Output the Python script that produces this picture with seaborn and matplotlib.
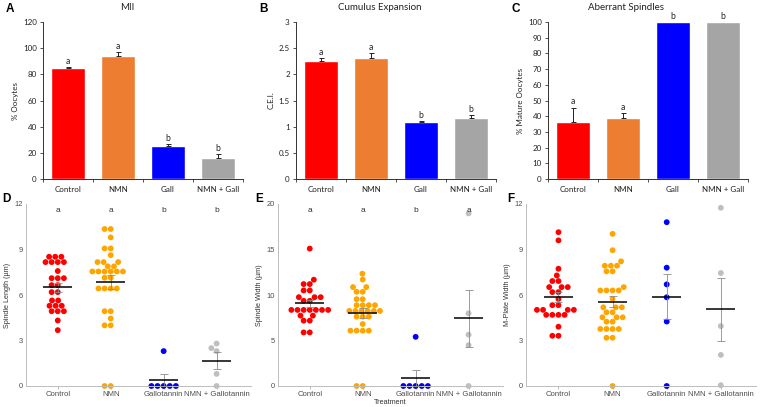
import numpy as np
import pandas as pd
import matplotlib
matplotlib.use("Agg")
import matplotlib.pyplot as plt
import seaborn as sns

# top row: bar charts (mean + upper error)
groups_top = ["Control", "NMN", "Gall", "NMN + Gall"]
bar_colors = ["#FF0000", "#ED7D31", "#0000FF", "#A5A5A5"]

mii_mean = [84.5, 94.0, 25.5, 16.0]
mii_err = [1.0, 3.0, 1.2, 3.0]
mii_letters = ["a", "a", "b", "b"]

cei_mean = [2.25, 2.32, 1.08, 1.16]
cei_err = [0.06, 0.08, 0.03, 0.06]
cei_letters = ["a", "a", "b", "b"]

aberrant_mean = [36.0, 39.0, 100.0, 100.0]
aberrant_err = [9.5, 3.0, 0.0, 0.0]
aberrant_letters = ["a", "a", "b", "b"]

# bottom row: individual oocytes
groups_bottom = ["Control", "NMN", "Gallotannin", "NMN + Gallotannin"]
dot_colors = ["#FF0000", "#FFA500", "#0000FF", "#BFBFBF"]

length_control = [8.52, 8.52, 8.52, 8.17, 8.17, 8.17, 8.17, 7.58, 7.11, 7.11, 7.11,
                  6.65, 6.65, 6.19, 6.19, 5.64, 5.64, 5.29, 5.29, 5.29, 4.93, 4.93,
                  4.93, 4.32, 3.68]
length_nmn = [10.35, 10.35, 9.8, 9.07, 9.07, 8.63, 8.17, 8.17, 8.17, 7.89, 7.89,
              7.55, 7.55, 7.55, 7.55, 7.55, 7.55, 7.14, 7.14, 6.43, 6.43, 6.43, 6.43,
              4.93, 4.93, 4.45, 4.0, 4.0, 0.0, 0.0]
length_gall = [2.3, 0.0, 0.0, 0.0, 0.0, 0.0]
length_nmn_gall = [2.8, 2.5, 2.3, 0.8, 0.0]
length_letters = ["a", "a", "b", "b"]

width_control = [15.1, 11.68, 11.2, 11.2, 10.5, 10.5, 9.76, 9.76, 9.76, 9.36, 9.36,
                 8.36, 8.36, 8.36, 8.36, 8.36, 8.36, 8.36, 7.73, 7.73, 7.18, 7.18,
                 5.89, 5.89]
width_nmn = [12.34, 11.7, 10.87, 10.87, 10.35, 10.35, 9.54, 9.54, 8.88, 8.88, 8.88,
             8.88, 8.25, 8.25, 8.25, 8.25, 8.25, 8.25, 7.62, 7.62, 7.62, 6.81, 6.08,
             6.08, 6.08, 6.08, 0.0, 0.0]
width_gall = [5.4, 0.0, 0.0, 0.0, 0.0, 0.0]
width_nmn_gall = [18.97, 7.99, 5.64, 4.49, 0.0]
width_letters = ["a", "a", "b", "a"]

plate_control = [10.14, 9.6, 7.73, 7.29, 6.92, 6.92, 6.52, 6.52, 6.52, 6.19, 6.19,
                 5.74, 5.33, 5.33, 5.02, 5.02, 5.02, 5.02, 4.69, 4.69, 4.69, 4.69,
                 3.91, 3.31, 3.31]
plate_nmn = [10.03, 8.95, 8.22, 7.93, 7.93, 7.93, 7.56, 7.56, 6.52, 6.3, 6.3, 6.3,
             6.3, 5.75, 5.19, 5.19, 5.19, 4.86, 4.86, 4.53, 4.53, 4.53, 4.24, 4.24,
             3.76, 3.76, 3.76, 3.76, 3.18, 3.18, 0.0]
plate_gall = [10.8, 7.8, 6.7, 5.85, 4.25, 0.0]
plate_nmn_gall = [11.75, 7.45, 3.95, 2.05, 0.05]

W, H = 760, 407
fig = plt.figure(figsize=(7.6, 4.07), dpi=100)
sns.set_style("ticks")
plt.rcParams["font.family"] = ["Liberation Sans", "DejaVu Sans"]


def box(left, top, right, bottom):
    # pixel box -> figure fraction
    return [left / W, 1 - bottom / H, (right - left) / W, (bottom - top) / H]


def bar_panel(rect, means, errs, letters, ymax, step, ylabel, title, title_x, letter, letter_x):
    ax = fig.add_axes(box(*rect))
    sns.barplot(x=groups_top, y=means, hue=groups_top, palette=bar_colors,
                width=0.68, saturation=1, legend=False, ax=ax)
    for i, (m, e, t) in enumerate(zip(means, errs, letters)):
        if e > 0:
            ax.errorbar(i, m, yerr=[[0], [e]], fmt="none", ecolor="#222222",
                        elinewidth=0.7, capsize=1.8, capthick=0.7)
        ax.annotate(t, (i, m + e), xytext=(0, 0.8), textcoords="offset points",
                    ha="center", va="bottom", fontsize=6.2, family="Lato",
                    color="#222222", annotation_clip=False)
    ax.set_xlim(-0.5, 3.5)
    ax.set_ylim(0, ymax)
    ticks = np.arange(0, ymax + step / 2, step)
    ax.set_yticks(ticks)
    ax.set_yticklabels([f"{t:g}" for t in ticks])
    ax.set_xticks(range(4))
    ax.set_xticklabels(groups_top)
    ax.set_xticks(np.arange(-0.5, 4, 1), minor=True)
    ax.tick_params(axis="x", which="major", length=0, pad=5)
    ax.tick_params(axis="x", which="minor", length=2.5, width=0.6, color="#333333")
    ax.tick_params(axis="y", length=2.5, width=0.6, color="#333333", pad=2)
    for lab in ax.get_xticklabels() + ax.get_yticklabels():
        lab.set_family("Lato")
        lab.set_fontsize(5.8)
        lab.set_color("#222222")
    ax.set_ylabel(ylabel, family="Lato", fontsize=5.8, color="#222222", labelpad=3)
    ax.set_xlabel("")
    sns.despine(ax=ax)
    for s in ["left", "bottom"]:
        ax.spines[s].set_linewidth(0.7)
        ax.spines[s].set_color("#333333")
    fig.text(title_x / W, 1 - 8 / H, title, ha="center", va="center",
             family="Lato", fontsize=7, color="#222222")
    fig.text(letter_x / W, 1 - 9 / H, letter, ha="left", va="center",
             fontsize=8.5, fontweight="bold", color="black")
    return ax


def dot_panel(rect, series, letters, ymax, step, ylabel, letter, letter_x, xlabel=""):
    ax = fig.add_axes(box(*rect))
    df = pd.DataFrame({
        "group": np.repeat(groups_bottom, [len(s) for s in series]),
        "value": np.concatenate(series),
    })
    sns.swarmplot(data=df, x="group", y="value", hue="group", order=groups_bottom,
                  hue_order=groups_bottom, palette=dot_colors, size=4.2,
                  linewidth=0, legend=False, ax=ax, zorder=2)
    for c in ax.collections:
        c.set_clip_on(False)
    stats = df.groupby("group", sort=False)["value"].agg(["mean", "sem"])
    stats = stats.reindex(groups_bottom)
    xs = np.arange(4)
    ax.errorbar(xs, stats["mean"], yerr=stats["sem"], fmt="none", ecolor="#8C8C8C",
                elinewidth=0.6, capsize=3.2, capthick=0.6, zorder=3)
    ax.hlines(stats["mean"], xs - 0.27, xs + 0.27, color="black", lw=1.1, zorder=4)
    if letters:
        for i, t in enumerate(letters):
            ax.text(i, ymax * 0.965, t, ha="center", va="center", fontsize=6,
                    color="#333333")
    ax.set_xlim(-0.6, 3.65)
    ax.set_ylim(0, ymax)
    ticks = np.arange(0, ymax + step / 2, step)
    ax.set_yticks(ticks)
    ax.set_yticklabels([f"{t:g}" for t in ticks])
    ax.tick_params(axis="x", length=2, width=0.5, color="#9E9E9E",
                   labelsize=5.6, labelcolor="#4D4D4D", pad=1.5)
    ax.tick_params(axis="y", length=0, labelsize=5.4, labelcolor="#4D4D4D", pad=2)
    ax.set_ylabel(ylabel, fontsize=5.2, color="#333333", labelpad=2.5)
    ax.set_xlabel(xlabel, fontsize=5.2, color="#333333", labelpad=1)
    sns.despine(ax=ax)
    for s in ["left", "bottom"]:
        ax.spines[s].set_linewidth(0.7)
        ax.spines[s].set_color("#BDBDBD")
    fig.text(letter_x / W, 1 - 199 / H, letter, ha="left", va="center",
             fontsize=8.5, fontweight="bold", color="black")
    return ax


bar_panel((43, 22, 243, 179), mii_mean, mii_err, mii_letters, 120, 20, "% Oocytes",
          "MII", 127, "A", 6)
bar_panel((296, 22, 496, 179), cei_mean, cei_err, cei_letters, 3, 0.5, "C.E.I.",
          "Cumulus Expansion", 380, "B", 259)
bar_panel((548, 22, 748, 179), aberrant_mean, aberrant_err, aberrant_letters, 100, 10,
          "% Mature Oocytes", "Aberrant Spindles", 626, "C", 512)

dot_panel((26, 204, 251, 386), [length_control, length_nmn, length_gall, length_nmn_gall],
          length_letters, 12, 3, "Spindle Length (µm)", "D", 2)
dot_panel((278, 204, 503, 386), [width_control, width_nmn, width_gall, width_nmn_gall],
          width_letters, 20, 5, "Spindle Width (µm)", "E", 255, xlabel="Treatment")
dot_panel((526, 204, 756, 386), [plate_control, plate_nmn, plate_gall, plate_nmn_gall],
          None, 12, 3, "M-Plate Width (µm)", "F", 507)

fig.savefig("out.png", dpi=100)
